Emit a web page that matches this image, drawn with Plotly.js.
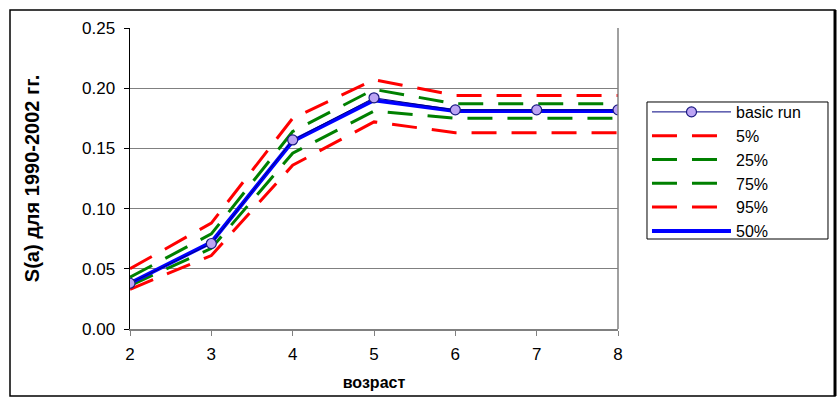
<!DOCTYPE html>
<html><head><meta charset="utf-8">
<script src="https://cdn.plot.ly/plotly-3.0.1.min.js"></script>
<style>body{margin:0;background:#fff}#c{width:837px;height:398px}</style>
</head><body><div id="c"></div>
<script>
const ages = [2, 3, 4, 5, 6, 7, 8];
const basicRun = [0.038, 0.071, 0.157, 0.192, 0.182, 0.182, 0.182];
const p5  = [0.033, 0.061, 0.136, 0.172, 0.163, 0.163, 0.163];
const p25 = [0.036, 0.067, 0.146, 0.181, 0.175, 0.175, 0.175];
const p75 = [0.043, 0.079, 0.164, 0.199, 0.187, 0.187, 0.187];
const p95 = [0.050, 0.088, 0.175, 0.207, 0.194, 0.194, 0.194];
const p50 = [0.038, 0.072, 0.156, 0.190, 0.181, 0.181, 0.181];
const seriesNames = ['basic run', '5%', '25%', '75%', '95%', '50%'];
const yTicks = [0, 0.05, 0.10, 0.15, 0.20, 0.25];
const yTickText = ['0.00', '0.05', '0.10', '0.15', '0.20', '0.25'];

const dash = '25px,15px';
function dashed(y, name, color, rank) {
  return {x: ages, y: y, name: name, type: 'scatter', mode: 'lines',
    line: {color: color, width: 3, dash: dash}, legendrank: rank, legendgroup: name};
}
const traces = [
  dashed(p5, seriesNames[1], '#ff0000', 2),
  dashed(p25, seriesNames[2], '#008000', 3),
  dashed(p75, seriesNames[3], '#008000', 4),
  dashed(p95, seriesNames[4], '#ff0000', 5),
  {x: ages, y: p50, name: seriesNames[5], type: 'scatter', mode: 'lines',
    line: {color: '#0000ff', width: 4}, legendrank: 6, legendgroup: '50'},
  {x: ages, y: basicRun, name: seriesNames[0], type: 'scatter', mode: 'lines+markers',
    line: {color: '#000080', width: 1},
    marker: {size: 10, color: '#bca4f4', line: {color: '#1a1a80', width: 1.2}},
    legendrank: 1, legendgroup: 'basic'}
];

const layout = {
  width: 837, height: 398,
  margin: {l: 130, r: 219, t: 28, b: 69},
  paper_bgcolor: '#fff', plot_bgcolor: '#fff',
  font: {family: 'Liberation Sans, Arial, sans-serif', size: 17, color: '#000'},
  showlegend: true,
  legend: {x: 1.0594, y: 0.7774, xanchor: 'left', yanchor: 'top',
    borderwidth: 0, bgcolor: 'rgba(0,0,0,0)',
    font: {size: 16}, tracegroupgap: 0, itemwidth: 79},
  xaxis: {range: [2, 8], tickvals: ages, ticktext: ages.map(String),
    showgrid: false, zeroline: false, showline: true, linecolor: '#808080', linewidth: 1.5,
    ticks: 'outside', ticklen: 5, tickcolor: '#808080', tickfont: {size: 17},
    ticklabelstandoff: 4,
    title: {text: 'возраст', font: {size: 16, weight: 'bold'}, standoff: 14}},
  yaxis: {range: [0, 0.25], tickvals: yTicks, ticktext: yTickText,
    showgrid: true, gridcolor: '#808080', gridwidth: 1, zeroline: false,
    showline: true, linecolor: '#000', linewidth: 1.5,
    ticks: 'outside', ticklen: 5, tickcolor: '#000', tickfont: {size: 17},
    ticklabelstandoff: 5,
    title: {text: 'S(a) для 1990-2002 гг.', font: {size: 20, weight: 'bold', family: 'Liberation Sans Narrow, Arial Narrow, Liberation Sans, Arial'}, standoff: 37}},
  shapes: [
    {type: 'line', xref: 'paper', yref: 'paper', x0: 1, x1: 1, y0: 0, y1: 1,
      line: {color: '#808080', width: 1.5}},
    {type: 'rect', xref: 'paper', yref: 'paper', x0: -0.2459, x1: 1.4447, y0: -0.2226, y1: 1.0598,
      line: {color: '#000', width: 1.5}, layer: 'below'},
    {type: 'line', xref: 'paper', yref: 'paper', x0: 1.4447, x1: 1.4447, y0: -0.2226, y1: 1.0598,
      line: {color: '#000', width: 3}, layer: 'below'},
    {type: 'rect', xref: 'paper', yref: 'paper', x0: 1.0594, x1: 1.4303, y0: 0.2990, y1: 0.7542,
      line: {color: '#000', width: 1}, layer: 'below'}
  ]
};
Plotly.newPlot('c', traces, layout, {displayModeBar: false, staticPlot: true});
</script></body></html>
